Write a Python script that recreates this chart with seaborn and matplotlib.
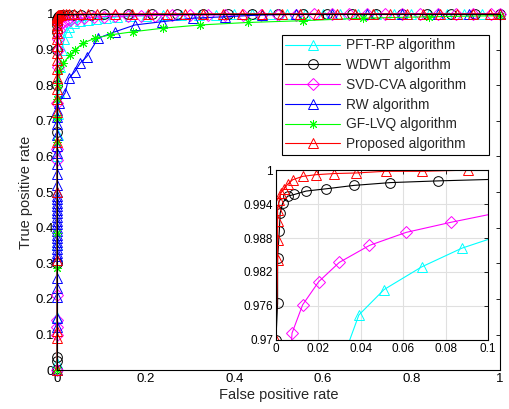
import numpy as np
import pandas as pd
import seaborn as sns
import matplotlib.pyplot as plt

# ROC points (fpr, tpr) per algorithm
pft_fpr = [0, 0, 0, 0, 0, 0.0005, 0.001, 0.002, 0.004, 0.007, 0.011, 0.016, 0.022, 0.027,
           0.0391, 0.051, 0.0687, 0.0876, 0.11, 0.135, 0.165, 0.2, 0.24, 0.28, 0.32, 0.36,
           0.40, 0.44, 0.48, 0.52, 0.56, 0.60, 0.64, 0.68, 0.72, 0.76, 0.80, 0.84, 0.88,
           0.92, 0.96, 1.0]
pft_tpr = [0, 0.02, 0.15, 0.35, 0.5, 0.6, 0.66, 0.72, 0.78, 0.85, 0.9, 0.93, 0.95, 0.962,
           0.9744, 0.9789, 0.9829, 0.9862, 0.989, 0.9915, 0.9935, 0.995, 0.9962, 0.997,
           0.9976, 0.998, 0.9984, 0.9987, 0.999, 0.9992, 0.9993, 0.9994, 0.9995, 0.9996,
           0.9997, 0.9997, 0.9998, 0.9998, 0.9999, 0.9999, 1.0, 1.0]

wdwt_fpr = [0, 0, 0, 0, 0, 0, 0, 0, 0, 0.0008, 0.0008, 0.0016, 0.002, 0.0032, 0.0055,
            0.0087, 0.0142, 0.0236, 0.0367, 0.054, 0.0764, 0.105, 0.16, 0.215, 0.27, 0.33,
            0.385, 0.44, 0.50, 0.555, 0.61, 0.665, 0.72, 0.78, 0.835, 0.89, 0.945, 1.0]
wdwt_tpr = [0, 0.025, 0.037, 0.3, 0.669, 0.8, 0.9, 0.95, 0.97, 0.9765, 0.9845, 0.9892,
            0.9924, 0.9942, 0.9954, 0.9957, 0.9963, 0.9967, 0.9973, 0.9978, 0.9981, 0.9984,
            0.9986, 0.9988, 0.999, 0.9991, 0.9992, 0.9993, 0.9994, 0.9995, 0.9996, 0.9997,
            0.9997, 0.9998, 0.9998, 0.9999, 0.9999, 1.0]

svd_fpr = [0, 0, 0, 0, 0, 0, 0, 0, 0.001, 0.002, 0.003, 0.0045, 0.0076, 0.0126, 0.0202,
           0.0299, 0.0441, 0.0614, 0.0827, 0.105, 0.13, 0.16, 0.19, 0.22, 0.26, 0.30, 0.34,
           0.38, 0.42, 0.46, 0.50, 0.54, 0.58, 0.62, 0.66, 0.70, 0.74, 0.78, 0.82, 0.86,
           0.90, 0.94, 0.98, 1.0]
svd_tpr = [0, 0.1, 0.12, 0.14, 0.21, 0.59, 0.62, 0.75, 0.85, 0.9, 0.93, 0.955, 0.9712,
           0.9762, 0.9803, 0.9837, 0.9867, 0.989, 0.9908, 0.9925, 0.9935, 0.9945, 0.995,
           0.9955, 0.996, 0.9965, 0.9969, 0.9972, 0.9975, 0.9978, 0.998, 0.9982, 0.9984,
           0.9986, 0.9988, 0.9989, 0.999, 0.9992, 0.9993, 0.9994, 0.9996, 0.9997, 0.9999, 1.0]

rw_fpr = [0, 0, 0, 0, 0, 0, 0, 0, 0, 0, 0, 0, 0, 0, 0, 0, 0, 0, 0, 0, 0, 0, 0, 0, 0, 0,
          0, 0, 0, 0, 0, 0, 0, 0, 0, 0.004, 0.018, 0.026, 0.04, 0.052, 0.067, 0.093, 0.131,
          0.176, 0.236, 0.307, 0.379, 0.462, 0.54, 0.62, 0.70, 0.78, 0.86, 0.93, 1.0]
rw_tpr = [0, 0.122, 0.146, 0.206, 0.23, 0.26, 0.31, 0.32, 0.33, 0.34, 0.35, 0.36, 0.37,
          0.38, 0.39, 0.40, 0.41, 0.42, 0.43, 0.44, 0.45, 0.46, 0.47, 0.48, 0.49, 0.50,
          0.52, 0.55, 0.58, 0.61, 0.63, 0.66, 0.69, 0.71, 0.73, 0.75, 0.778, 0.819, 0.838,
          0.862, 0.88, 0.932, 0.95, 0.969, 0.978, 0.988, 0.992, 0.997, 0.999, 1.0, 1.0, 1.0,
          1.0, 1.0, 1.0]

gf_fpr = [0, 0, 0, 0, 0, 0, 0.002, 0.005, 0.014, 0.029, 0.04, 0.059, 0.086, 0.12, 0.172,
          0.24, 0.323, 0.432, 0.556, 0.69, 0.84, 1.0]
gf_tpr = [0, 0.287, 0.385, 0.64, 0.708, 0.76, 0.8, 0.84, 0.862, 0.885, 0.899, 0.918,
          0.932, 0.941, 0.95, 0.96, 0.969, 0.976, 0.981, 0.988, 0.992, 0.995]

prop_fpr = [0, 0, 0, 0, 0, 0, 0, 0, 0, 0, 0, 0, 0, 0, 0, 0, 0, 0, 0.0008, 0.0008, 0.0008,
            0.0008, 0.0016, 0.0024, 0.004, 0.0055, 0.0079, 0.0126, 0.019, 0.0276, 0.0378,
            0.0517, 0.069, 0.0906, 0.13, 0.17, 0.205, 0.248, 0.289, 0.33, 0.375, 0.418,
            0.463, 0.508, 0.548, 0.589, 0.632, 0.673, 0.713, 0.752, 0.79, 0.826, 0.865,
            0.903, 0.939, 0.977, 1.0]
prop_tpr = [0, 0.09, 0.11, 0.31, 0.50, 0.64, 0.726, 0.76, 0.79, 0.82, 0.845, 0.87, 0.89,
            0.91, 0.93, 0.945, 0.96, 0.97, 0.9842, 0.9877, 0.991, 0.993, 0.9948, 0.996,
            0.9967, 0.9975, 0.9983, 0.9989, 0.9992, 0.9994, 0.9995, 0.9998, 0.9998, 1.0,
            1.0, 1.0, 1.0, 1.0, 1.0, 1.0, 1.0, 1.0, 1.0, 1.0, 1.0, 1.0, 1.0, 1.0, 1.0, 1.0,
            1.0, 1.0, 1.0, 1.0, 1.0, 1.0, 1.0]

names = ['PFT-RP algorithm', 'WDWT algorithm', 'SVD-CVA algorithm', 'RW algorithm',
         'GF-LVQ algorithm', 'Proposed algorithm']
curves = [(pft_fpr, pft_tpr), (wdwt_fpr, wdwt_tpr), (svd_fpr, svd_tpr),
          (rw_fpr, rw_tpr), (gf_fpr, gf_tpr), (prop_fpr, prop_tpr)]
colors = ['cyan', 'black', 'magenta', 'blue', 'lime', 'red']
markers = ['^', 'o', 'D', '^', (8, 2, 0), '^']
msizes = [7.5, 7, 6.5, 7.5, 6.5, 7.5]

main_ticks = [0, 0.2, 0.4, 0.6, 0.8, 1]
main_ticklabels = ['0', '0.2', '0.4', '0.6', '0.8', '1']
y_ticks = [0, 0.1, 0.2, 0.3, 0.4, 0.5, 0.6, 0.7, 0.8, 0.9, 1]
y_ticklabels = ['0', '0.1', '0.2', '0.3', '0.4', '0.5', '0.6', '0.7', '0.8', '0.9', '1']
inset_xticks = [0, 0.02, 0.04, 0.06, 0.08, 0.1]
inset_xticklabels = ['0', '0.02', '0.04', '0.06', '0.08', '0.1']
inset_yticks = [0.97, 0.976, 0.982, 0.988, 0.994, 1.0]
inset_yticklabels = ['0.97', '0.976', '0.982', '0.988', '0.994', '1']

sns.set_theme(style='white')
plt.rcParams['font.family'] = ['Liberation Sans', 'DejaVu Sans']

fig = plt.figure(figsize=(5.1, 4.09), dpi=100)
ax = fig.add_axes([0.112, 0.095, 0.868, 0.871])


def draw(ax, with_labels, clip):
    for (fx, ty), name, c, m, ms in zip(curves, names, colors, markers, msizes):
        df = pd.DataFrame({'fpr': fx, 'tpr': ty})
        sns.lineplot(data=df, x='fpr', y='tpr', sort=False, estimator=None, ax=ax,
                     color=c, linewidth=0.8, marker=m, markersize=ms,
                     markerfacecolor='none', markeredgecolor=c, markeredgewidth=0.7,
                     clip_on=clip, label=name if with_labels else None, legend=False)


def style_axes(ax, size):
    for s in ax.spines.values():
        s.set_color('black')
        s.set_linewidth(0.8)
    ax.tick_params(direction='in', length=3, width=0.6, top=True, right=True,
                   labelsize=size, colors='black', pad=2)


draw(ax, True, False)
ax.set_xlim(0, 1)
ax.set_ylim(0, 1)
ax.set_xticks(main_ticks, main_ticklabels)
ax.set_yticks(y_ticks, y_ticklabels)
style_axes(ax, 9.5)
ax.set_xlabel('False positive rate', fontsize=10.5, labelpad=2)
ax.set_ylabel('True positive rate', fontsize=10.5, labelpad=2)

handles, labels = ax.get_legend_handles_labels()
leg = ax.legend(handles, labels, loc='upper left', mode='expand',
                bbox_to_anchor=(0.508, 0.613, 0.467, 0.328),
                borderaxespad=0, fontsize=9.9, numpoints=1, handlelength=4.0,
                handletextpad=0.4, labelspacing=0.42, borderpad=0.25, fancybox=False,
                framealpha=1, edgecolor='black')
leg.get_frame().set_linewidth(0.8)
leg.set_zorder(20)

# zoomed inset
axin = fig.add_axes([0.541, 0.169, 0.416, 0.415])
draw(axin, False, True)
axin.set_xlim(0, 0.1)
axin.set_ylim(0.97, 1.0)
axin.set_xticks(inset_xticks, inset_xticklabels)
axin.set_yticks(inset_yticks, inset_yticklabels)
axin.grid(True, color='#e0e0e0', linewidth=0.8)
axin.set_xlabel('')
axin.set_ylabel('')
style_axes(axin, 8.5)
axin.set_facecolor('white')

fig.savefig('out.png', dpi=100)
